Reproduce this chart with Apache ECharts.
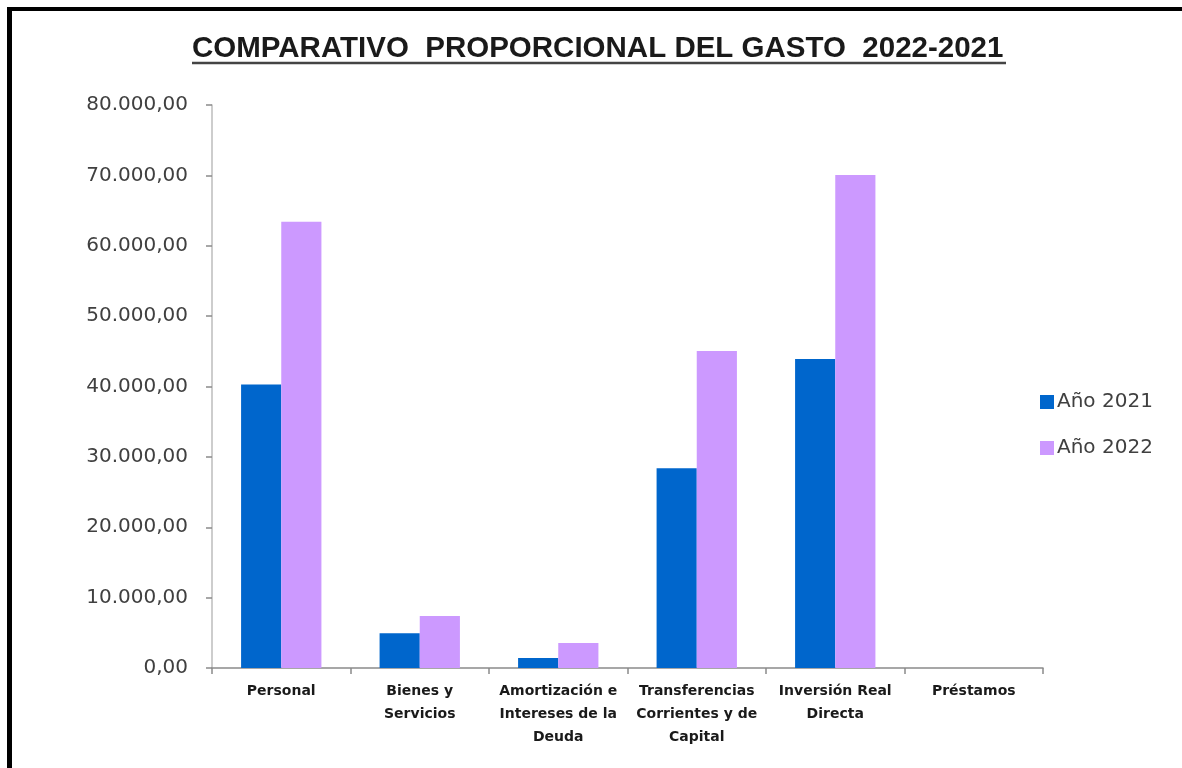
<!DOCTYPE html>
<html>
<head>
<meta charset="utf-8">
<script src="https://cdn.jsdelivr.net/npm/echarts@6/dist/echarts.min.js"></script>
<style>
  html, body { margin: 0; padding: 0; background: #fff; overflow: hidden; }
  #chart { width: 1182px; height: 768px; }
</style>
</head>
<body>
<div id="chart"></div>
<script>
const categories = [
  'Personal',
  'Bienes y\nServicios',
  'Amortización e\nIntereses de la\nDeuda',
  'Transferencias\nCorrientes y de\nCapital',
  'Inversión Real\nDirecta',
  'Préstamos'
];
const year2021 = [40300, 4950, 1420, 28400, 43900, 0];
const year2022 = [63400, 7400, 3550, 45050, 70050, 0];
const seriesNames = ['Año 2021', 'Año 2022'];
const titleText = 'COMPARATIVO  PROPORCIONAL DEL GASTO  2022-2021';

function fmt(v) {
  const parts = Math.abs(v).toFixed(2).split('.');
  const int = parts[0].replace(/\B(?=(\d{3})+(?!\d))/g, '.');
  return (v < 0 ? '-' : '') + int + ',' + parts[1];
}

const chart = echarts.init(document.getElementById('chart'));
chart.setOption({
  backgroundColor: '#ffffff',
  animation: false,
  title: {
    text: titleText,
    left: 192,
    top: 34,
    padding: 0,
    textStyle: { fontFamily: 'Liberation Sans', fontSize: 29.5, fontWeight: 'bold', color: '#1a1a1a' }
  },
  graphic: [
    { type: 'line', shape: { x1: 192, y1: 63, x2: 1006, y2: 63 },
      style: { stroke: '#444', lineWidth: 2.5 } },
    { type: 'rect', shape: { x: 7, y: 7, width: 5, height: 761 }, style: { fill: '#000' } },
    { type: 'rect', shape: { x: 7, y: 7, width: 1175, height: 4 }, style: { fill: '#000' } }
  ],
  legend: {
    orient: 'vertical',
    left: 1035,
    top: 387,
    itemWidth: 14,
    itemHeight: 14,
    itemGap: 26,
    icon: 'rect',
    textStyle: { fontFamily: 'DejaVu Sans', fontSize: 20, color: '#404040', padding: [0, 0, 0, -2] },
    data: seriesNames
  },
  grid: { left: 212, right: 139, top: 105, bottom: 100, containLabel: false, outerBoundsMode: 'none' },
  xAxis: {
    type: 'category',
    data: categories,
    axisLine: { lineStyle: { color: '#8a8a8a', width: 1.5 } },
    axisTick: { show: true, length: 6, lineStyle: { color: '#8a8a8a', width: 1.5 } },
    axisLabel: {
      interval: 0,
      margin: 12,
      fontFamily: 'DejaVu Sans',
      fontWeight: 'bold',
      fontSize: 14,
      lineHeight: 23,
      color: '#1a1a1a'
    }
  },
  yAxis: {
    type: 'value',
    min: 0,
    max: 80000,
    interval: 10000,
    axisLine: { show: true, lineStyle: { color: '#bdbdbd', width: 1.5 } },
    axisTick: { show: true, length: 6, lineStyle: { color: '#8a8a8a', width: 1.5 } },
    splitLine: { show: false },
    axisLabel: {
      margin: 24,
      fontFamily: 'DejaVu Sans',
      fontSize: 20,
      color: '#404040',
      formatter: fmt
    }
  },
  series: [
    {
      name: seriesNames[0], type: 'bar', data: year2021,
      itemStyle: { color: '#0066CC' },
      barGap: '0%', barCategoryGap: '42%'
    },
    {
      name: seriesNames[1], type: 'bar', data: year2022,
      itemStyle: { color: '#CC99FF' },
      barGap: '0%', barCategoryGap: '42%'
    }
  ]
});
</script>
</body>
</html>
